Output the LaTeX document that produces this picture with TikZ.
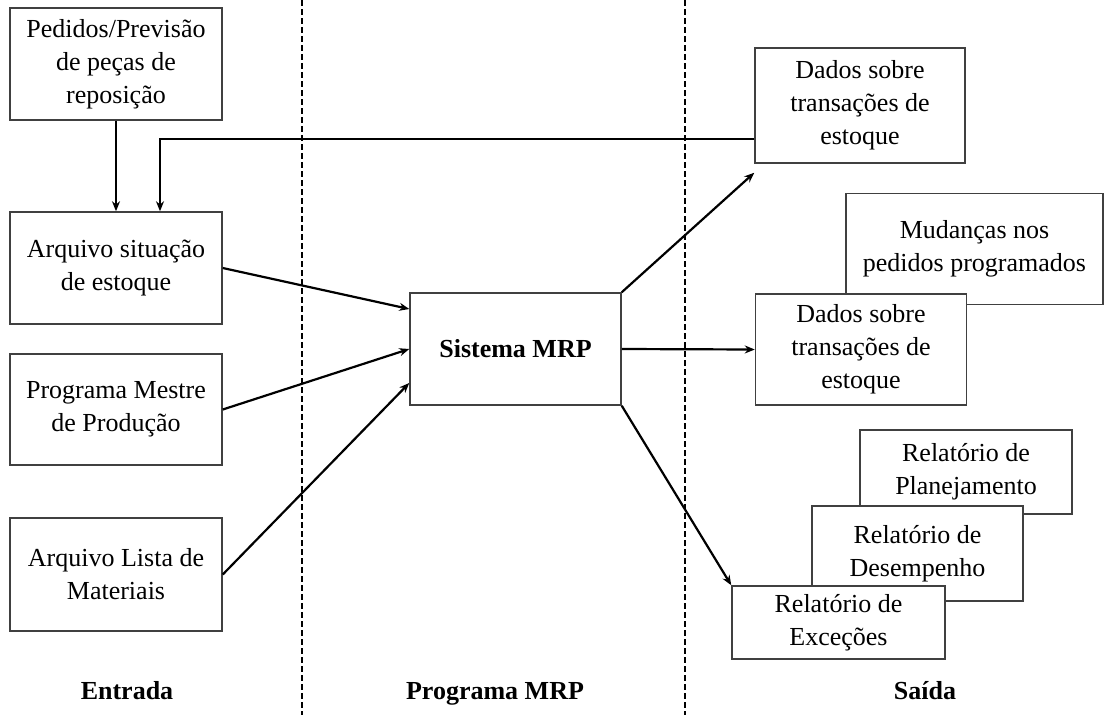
\documentclass[tikz,border=0pt]{standalone}
\usepackage{fontspec}
\setmainfont{Liberation Serif}
\usetikzlibrary{arrows.meta}
\begin{document}
\begin{tikzpicture}[x=1pt,y=-1pt,
  box/.style={draw=black!75,line width=1.5pt,fill=white,inner sep=0pt,align=center,
    font=\fontsize{26}{33}\selectfont},
  arr/.style={line width=2.2pt,-{Stealth[length=10pt,width=8pt]}},
  lane/.style={line width=1.5pt,dash pattern=on 6pt off 3pt},
  head/.style={anchor=base,font=\fontsize{26}{30}\selectfont\bfseries}]
\useasboundingbox (0,0) rectangle (1105,715);
\fill[white] (0,0) rectangle (1105,715);
% lane separators
\draw[lane] (302,0) -- (302,715);
\draw[lane] (685,0) -- (685,715);
% input boxes
\node[box,minimum width=212pt,minimum height=112pt] (ped) at (116,64) {Pedidos/Previsão\\de peças de\\reposição};
\node[box,minimum width=212pt,minimum height=112pt] (ase) at (116,268) {Arquivo situação\\de estoque};
\node[box,minimum width=212pt,minimum height=111pt] (pmp) at (116,409.5) {Programa Mestre\\de Produção};
\node[box,minimum width=212pt,minimum height=113pt] (alm) at (116,574.5) {Arquivo Lista de\\Materiais};
% centre
\node[box,minimum width=211pt,minimum height=112pt,font=\fontsize{26}{33}\selectfont\bfseries] (mrp) at (515.5,349) {Sistema MRP};
% outputs
\node[box,minimum width=210pt,minimum height=115pt] (dt) at (860,105.5) {Dados sobre\\transações de\\estoque};
\node[box,minimum width=257pt,minimum height=111pt] (mud) at (974.5,249) {Mudanças nos\\pedidos programados};
\node[box,minimum width=211pt,minimum height=111pt] (dm) at (861,349.5) {Dados sobre\\transações de\\estoque};
\node[box,minimum width=212pt,minimum height=84pt] (rpl) at (966,472) {Relatório de\\Planejamento};
\node[box,minimum width=211pt,minimum height=95pt] (rde) at (917.5,553.5) {Relatório de\\Desempenho};
\node[box,minimum width=213pt,minimum height=73pt] (rex) at (838.5,622.5) {Relatório de\\Exceções};
% connectors
\draw[arr] (ped.south) -- (ase.north);
\draw[arr] ([yshift=25pt]dt.south west) -| ([xshift=44pt]ase.north);
\draw[arr] (ase.east) -- ([yshift=40pt]mrp.west);
\draw[arr] (pmp.east) -- (mrp.west);
\draw[arr] (alm.east) -- ([yshift=-34pt]mrp.west);
\draw[arr] (mrp.north east) -- ([yshift=-9pt]dt.south west);
\draw[arr] (mrp.east) -- (dm.west);
\draw[arr] (mrp.south east) -- (rex.north west);
% lane headings
\node[head] (hin) at (127,699) {Entrada};
\node[head] (hmrp) at (495,699) {Programa MRP};
\node[head] (hout) at (925,699) {Saída};
\end{tikzpicture}
\end{document}
